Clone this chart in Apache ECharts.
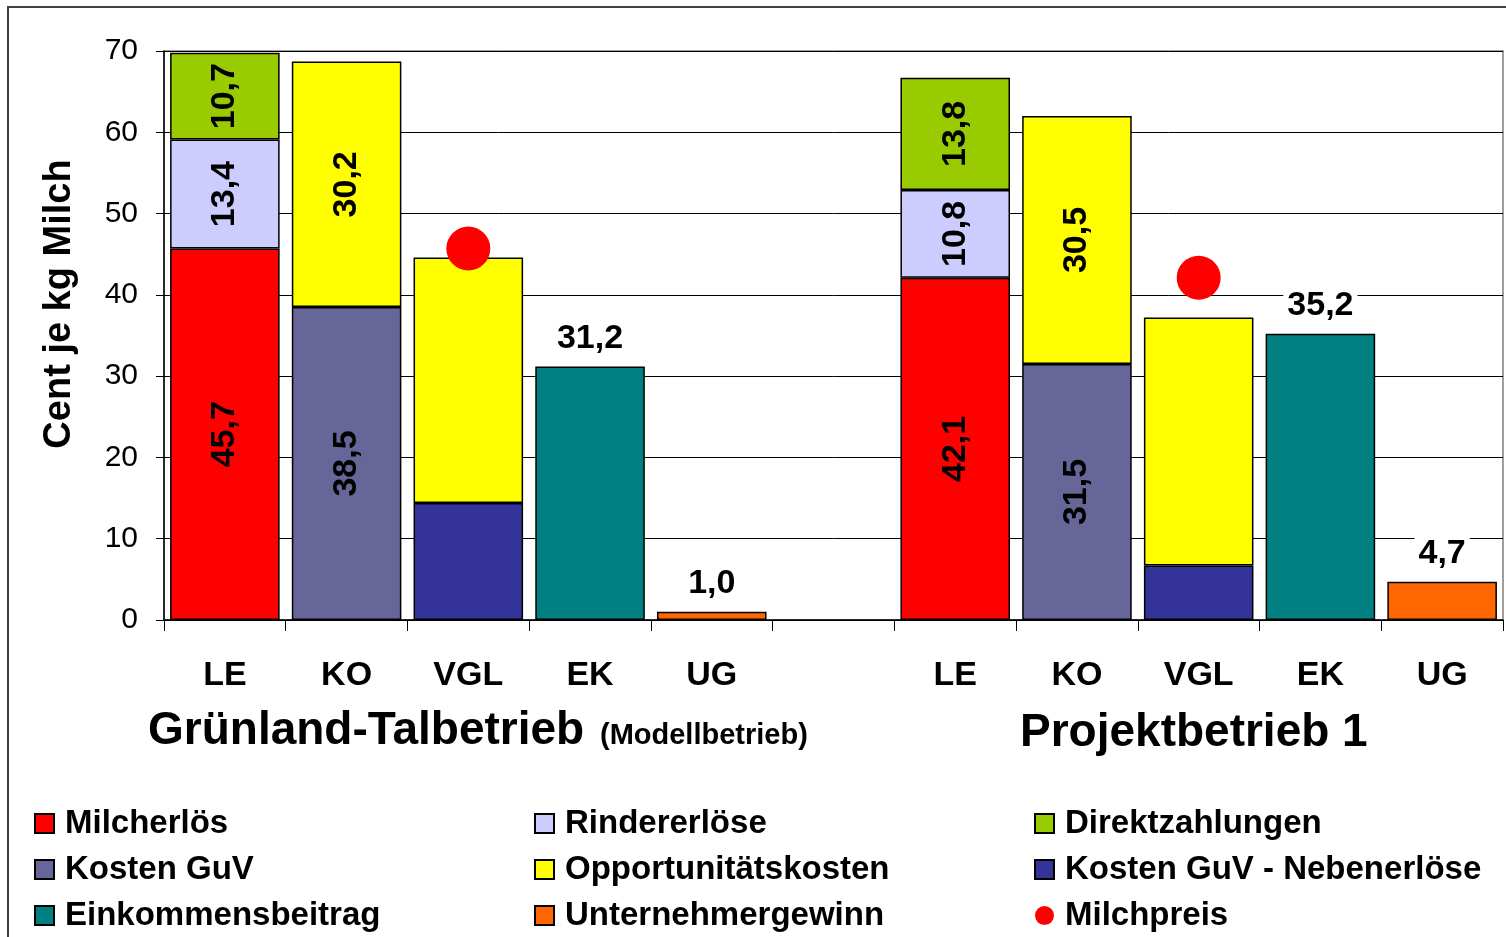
<!DOCTYPE html>
<html>
<head>
<meta charset="utf-8">
<script src="https://cdn.jsdelivr.net/npm/echarts@6/dist/echarts.min.js"></script>
<style>html,body{margin:0;padding:0;background:#fff}#c{width:1506px;height:937px}</style>
</head>
<body>
<div id="c"></div>
<script>
const categories = ['LE','KO','VGL','EK','UG','','LE','KO','VGL','EK','UG'];
const yTicks = [0,10,20,30,40,50,60,70];
const milcherloes      = [45.7,null,null,null,null,null,42.1,null,null,null,null];
const rindererloese    = [13.4,null,null,null,null,null,10.8,null,null,null,null];
const direktzahlungen  = [10.7,null,null,null,null,null,13.8,null,null,null,null];
const kostenGuV        = [null,38.5,null,null,null,null,null,31.5,null,null,null];
const kostenNeben      = [null,null,14.4,null,null,null,null,null,6.7,null,null];
const opportunitaet    = [null,30.2,30.2,null,null,null,null,30.5,30.5,null,null];
const einkommen        = [null,null,null,31.2,null,null,null,null,null,35.2,null];
const unternehmer      = [null,null,null,null,1.0,null,null,null,null,null,4.7];
const milchpreis       = [null,null,45.7,null,null,null,null,null,42.1,null,null];
const groupTitles = ['Grünland-Talbetrieb','(Modellbetrieb)','Projektbetrieb 1'];

const FONT = 'Liberation Sans, Arial, sans-serif';
const fmt = v => (v == null ? '' : Number(v).toFixed(1).replace('.', ','));
const inLabel = {show:true, position:'inside', rotate:90, fontFamily:FONT, fontWeight:'bold', fontSize:34, color:'#000',
  formatter: p => fmt(p.value)};
const topLabel = {show:true, position:'top', distance:11, fontFamily:FONT, fontWeight:'bold', fontSize:34, color:'#000',
  backgroundColor:'#fff', padding:[0,4], formatter: p => fmt(p.value)};

function bar(name, data, color, label) {
  return {name, type:'bar', stack:'a', data, barWidth:'90%',
    itemStyle:{color, borderColor:'#000', borderWidth:1.5},
    label: label || {show:false}, emphasis:{disabled:true}, animation:false};
}

const series = [
  bar('Milcherlös', milcherloes, '#FF0000', inLabel),
  bar('Rindererlöse', rindererloese, '#CCCCFF', inLabel),
  bar('Direktzahlungen', direktzahlungen, '#99CC00', inLabel),
  bar('Kosten GuV', kostenGuV, '#666699', inLabel),
  bar('Kosten GuV - Nebenerlöse', kostenNeben, '#333399', null),
  bar('Opportunitätskosten', opportunitaet, '#FFFF00', Object.assign({}, inLabel, {formatter: p => (p.name === 'VGL' ? '' : fmt(p.value))})),
  bar('Einkommensbeitrag', einkommen, '#008080', topLabel),
  bar('Unternehmergewinn', unternehmer, '#FF6600', topLabel),
  {name:'Milchpreis', type:'scatter', data:milchpreis, symbol:'circle', symbolSize:44, z:10,
    itemStyle:{color:'#FF0000', opacity:1}, emphasis:{disabled:true}, animation:false}
];

const legendText = {fontFamily:FONT, fontWeight:'bold', fontSize:33, color:'#000', lineHeight:33, padding:[0,0,0,6]};
function legend(left, names) {
  return {orient:'vertical', left, top:807, padding:0, itemGap:13, itemWidth:19, itemHeight:19,
    textStyle:legendText, selectedMode:false,
    data:names.map(n => n === 'Milchpreis' ? {name:n, icon:'circle'} : {name:n, icon:'rect'})};
}

const chart = echarts.init(document.getElementById('c'), null, {renderer:'canvas'});
chart.setOption({
  backgroundColor:'#fff',
  animation:false,
  grid:{left:164, top:51, right:3, bottom:317, show:true, borderColor:'#808080', borderWidth:1.5, backgroundColor:'transparent'},
  xAxis:{type:'category', data:categories,
    axisLine:{lineStyle:{color:'#000', width:1.5}},
    axisTick:{show:true, length:11, lineStyle:{color:'#000', width:1}},
    axisLabel:{margin:39, fontFamily:FONT, fontWeight:'bold', fontSize:34, color:'#000', interval:0}},
  yAxis:{type:'value', min:0, max:70, interval:10,
    axisLine:{show:true, lineStyle:{color:'#000', width:1.5}},
    axisTick:{show:true, inside:false, length:8, lineStyle:{color:'#000', width:1}},
    axisLabel:{margin:26, fontFamily:FONT, fontSize:30, color:'#000',
      formatter: v => (yTicks.indexOf(v) >= 0 ? String(v) : '')},
    splitLine:{show:true, lineStyle:{color:'#000', width:1}}},
  legend:[
    legend(34, ['Milcherlös','Kosten GuV','Einkommensbeitrag']),
    legend(534, ['Rindererlöse','Opportunitätskosten','Unternehmergewinn']),
    legend(1034, ['Direktzahlungen','Kosten GuV - Nebenerlöse','Milchpreis'])
  ],
  graphic:[
    {type:'rect', shape:{x:8, y:7, width:1600, height:1000}, style:{fill:'none', stroke:'#404040', lineWidth:2}, silent:true, z:-1},
    {type:'text', x:60, y:304, rotation:Math.PI/2, style:{text:'Cent je kg Milch', font:'bold 38px ' + FONT, fill:'#000', align:'center', verticalAlign:'middle'}},
    {type:'text', x:148, y:731, style:{text:groupTitles[0], font:'bold 46px ' + FONT, fill:'#000', align:'left', verticalAlign:'middle'}},
    {type:'text', x:600, y:736, style:{text:groupTitles[1], font:'bold 29px ' + FONT, fill:'#000', align:'left', verticalAlign:'middle'}},
    {type:'text', x:1020, y:733, style:{text:groupTitles[2], font:'bold 46px ' + FONT, fill:'#000', align:'left', verticalAlign:'middle'}}
  ],
  series
});
</script>
</body>
</html>
